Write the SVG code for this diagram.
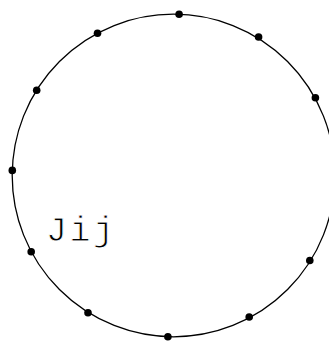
<svg xmlns="http://www.w3.org/2000/svg" width="329" height="342" viewBox="0 0 329 342">
<style>
.ring{fill:none;stroke:#000;stroke-width:1.3}
.dot{fill:#000}
.lbl{font-family:"Liberation Mono","Courier New",monospace;font-size:35px;letter-spacing:2.5px;fill:#000;stroke:#fff;stroke-width:0.9}
</style>
<rect width="329" height="342" fill="#fff"/>
<g id="connectors">
<circle class="ring" cx="173.5" cy="175.5" r="161.3"/>
</g>
<g id="nodes">
<circle id="n0" class="dot" cx="179.1" cy="14.3" r="3.8"/>
<circle id="n1" class="dot" cx="258.6" cy="37.0" r="3.8"/>
<circle id="n2" class="dot" cx="315.4" cy="97.7" r="3.8"/>
<circle id="n3" class="dot" cx="334.7" cy="181.1" r="3.8"/>
<circle id="n4" class="dot" cx="309.8" cy="260.5" r="3.8"/>
<circle id="n5" class="dot" cx="249.2" cy="317.0" r="3.8"/>
<circle id="n6" class="dot" cx="167.9" cy="336.7" r="3.8"/>
<circle id="n7" class="dot" cx="88.0" cy="312.7" r="3.8"/>
<circle id="n8" class="dot" cx="31.2" cy="251.8" r="3.8"/>
<circle id="n9" class="dot" cx="12.3" cy="170.4" r="3.8"/>
<circle id="n10" class="dot" cx="36.7" cy="90.3" r="3.8"/>
<circle id="n11" class="dot" cx="97.5" cy="33.3" r="3.8"/>
</g>
<text id="label" class="lbl" x="46" y="241">Jij</text>
</svg>
